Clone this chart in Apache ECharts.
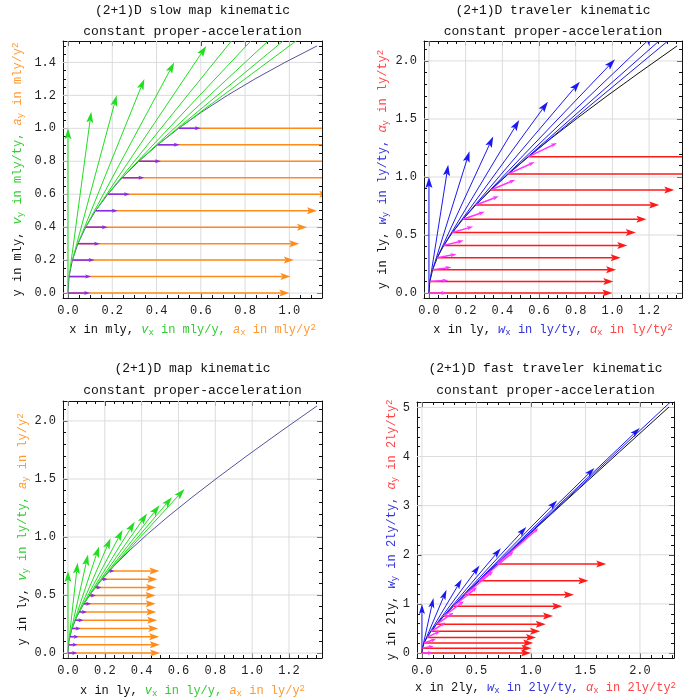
<!DOCTYPE html>
<html><head><meta charset="utf-8">
<script src="https://cdn.jsdelivr.net/npm/echarts@6/dist/echarts.min.js"></script>
<style>html,body{margin:0;padding:0;background:#fff}#c{width:700px;height:700px}</style>
</head><body><div id="c"></div>
<script>
// ---------- Panel 1: (2+1)D slow map kinematic ----------
const p1X   = [0, 0.005, 0.02, 0.045, 0.08, 0.125, 0.18, 0.245, 0.32, 0.405, 0.5];
const p1Y   = [0, 0.1, 0.2, 0.3, 0.4, 0.5, 0.6, 0.7, 0.8, 0.9, 1.0];
const p1Vx  = [0, 0.1, 0.2, 0.3, 0.4, 0.5, 0.6, 0.7, 0.8, 0.9, 1.0];
const p1Vy  = [1, 1, 1, 1, 1, 1, 1, 1, 1, 1, 1];
const p1Ax  = [1, 1, 1, 1, 1, 1, 1, 1, 1, 1, 1];
const p1Ay  = [0, 0, 0, 0, 0, 0, 0, 0, 0, 0, 0];
const p1Dx  = [0.1, 0.1, 0.1, 0.1, 0.1, 0.1, 0.1, 0.1, 0.1, 0.1, 0.1];
const p1Dy  = [0, 0, 0, 0, 0, 0, 0, 0, 0, 0, 0];
const p1CurveX = [0, 0.005, 0.02, 0.045, 0.08, 0.125, 0.18, 0.245, 0.32, 0.405, 0.5, 0.605, 0.72, 0.845, 0.98, 1.125];
const p1CurveY = [0, 0.1, 0.2, 0.3, 0.4, 0.5, 0.6, 0.7, 0.8, 0.9, 1.0, 1.1, 1.2, 1.3, 1.4, 1.5];
const p1XTicks = [0, 0.2, 0.4, 0.6, 0.8, 1.0];
const p1YTicks = [0, 0.2, 0.4, 0.6, 0.8, 1.0, 1.2, 1.4];

// ---------- Panel 2: (2+1)D traveler kinematic ----------
const p2X   = [0, 0.005, 0.0201, 0.0453, 0.0811, 0.1276, 0.1855, 0.2552, 0.3374, 0.4331, 0.5431];
const p2Y   = [0, 0.1002, 0.2013, 0.3045, 0.4108, 0.5211, 0.6367, 0.7586, 0.8881, 1.0265, 1.1752];
const p2Wx  = [0, 0.100, 0.201, 0.305, 0.411, 0.521, 0.637, 0.759, 0.888, 1.027, 1.175];
const p2Wy  = [1, 1.005, 1.020, 1.045, 1.081, 1.128, 1.185, 1.255, 1.337, 1.433, 1.543];
const p2Alx = [1, 1, 1, 1, 1, 1, 1, 1, 1, 1, 1];
const p2Aly = [0, 0, 0, 0, 0, 0, 0, 0, 0, 0, 0];
const p2Dx  = [0.1, 0.1005, 0.102, 0.1045, 0.1081, 0.1128, 0.1185, 0.1255, 0.1337, 0.1433, 0.1543];
const p2Dy  = [0, 0.010, 0.0201, 0.0305, 0.0411, 0.0521, 0.0637, 0.0759, 0.0888, 0.1027, 0.1175];
const p2CurveX = [0, 0.005, 0.0201, 0.0453, 0.0811, 0.1276, 0.1855, 0.2552, 0.3374, 0.4331, 0.5431, 0.6685, 0.8107, 0.9709, 1.1509, 1.3524];
const p2CurveY = [0, 0.1002, 0.2013, 0.3045, 0.4108, 0.5211, 0.6367, 0.7586, 0.8881, 1.0265, 1.1752, 1.3356, 1.5095, 1.6984, 1.9043, 2.1293];
const p2XTicks = [0, 0.2, 0.4, 0.6, 0.8, 1.0, 1.2];
const p2YTicks = [0, 0.5, 1.0, 1.5, 2.0];

// ---------- Panel 3: (2+1)D map kinematic ----------
const p3X   = [0, 0.0025, 0.0100, 0.0223, 0.0392, 0.0607, 0.0863, 0.1158, 0.1489, 0.1853, 0.2247];
const p3Y   = [0, 0.0707, 0.1414, 0.2121, 0.2828, 0.3536, 0.4243, 0.4950, 0.5657, 0.6364, 0.7071];
const p3Vx  = [0, 0.0499, 0.0990, 0.1467, 0.1924, 0.2357, 0.2762, 0.3137, 0.3482, 0.3796, 0.4082];
const p3Vy  = [0.7071, 0.7071, 0.7071, 0.7071, 0.7071, 0.7071, 0.7071, 0.7071, 0.7071, 0.7071, 0.7071];
const p3Ax  = [0.5, 0.4963, 0.4854, 0.4680, 0.4455, 0.4190, 0.3901, 0.3599, 0.3297, 0.3002, 0.2722];
const p3Ay  = [0, 0, 0, 0, 0, 0, 0, 0, 0, 0, 0];
const p3Dx  = [0.05, 0.0496, 0.0485, 0.0468, 0.0446, 0.0419, 0.0390, 0.0360, 0.0330, 0.0300, 0.0272];
const p3Dy  = [0, 0, 0, 0, 0, 0, 0, 0, 0, 0, 0];
const p3CurveX = p2CurveX;
const p3CurveY = p2CurveY;
const p3XTicks = [0, 0.2, 0.4, 0.6, 0.8, 1.0, 1.2];
const p3YTicks = [0, 0.5, 1.0, 1.5, 2.0];

// ---------- Panel 4: (2+1)D fast traveler kinematic ----------
const p4X   = [0, 0.0050, 0.0203, 0.0464, 0.0844, 0.1358, 0.2027, 0.2877, 0.3944, 0.5269, 0.6906];
const p4Y   = [0, 0.1007, 0.2054, 0.3184, 0.4441, 0.5876, 0.7548, 0.9522, 1.1878, 1.4711, 1.8135];
const p4Wx  = [0, 0.1007, 0.2054, 0.3184, 0.4441, 0.5876, 0.7548, 0.9522, 1.1878, 1.4711, 1.8135];
const p4Wy  = [1, 1.0201, 1.0811, 1.1855, 1.3374, 1.5431, 1.8107, 2.1509, 2.5775, 3.1075, 3.7622];
const p4Alx = [1, 1, 1, 1, 1, 1, 1, 1, 1, 1, 1];
const p4Aly = [0, 0, 0, 0, 0, 0, 0, 0, 0, 0, 0];
const p4Dx  = [0.1, 0.102, 0.1081, 0.1186, 0.1337, 0.1543, 0.1811, 0.2151, 0.2578, 0.3108, 0.3762];
const p4Dy  = [0, 0.0403, 0.0822, 0.1273, 0.1776, 0.2350, 0.3019, 0.3809, 0.4751, 0.5884, 0.7254];
const p4CurveX = [0, 0.0050, 0.0203, 0.0464, 0.0844, 0.1358, 0.2027, 0.2877, 0.3944, 0.5269, 0.6906, 0.8920, 1.1392, 1.4423, 1.8132, 2.2669];
const p4CurveY = [0, 0.1007, 0.2054, 0.3184, 0.4441, 0.5876, 0.7548, 0.9522, 1.1878, 1.4711, 1.8135, 2.2286, 2.7331, 3.3474, 4.0960, 5.0090];
const p4XTicks = [0, 0.5, 1.0, 1.5, 2.0];
const p4YTicks = [0, 1, 2, 3, 4, 5];

// ---------- styling / layout ----------
const FONT = '"Liberation Mono", "DejaVu Sans Mono", monospace';
const GREEN = '#22dd22', ORANGE = '#ff8c1a', PURPLE = '#8a2be2', CURVE = '#55559a';
const BLUE = '#1a1af0', RED = '#ff1a1a', MAGENTA = '#ff33ff', BLACK = '#111111';
const TXT_G = '#33cc33', TXT_O = '#ff9933', TXT_B = '#3333dd', TXT_R = '#ff4444';

function minorTicks(lo, hi, step, majors) {
  const out = [];
  const n0 = Math.ceil(lo / step - 1e-9), n1 = Math.floor(hi / step + 1e-9);
  for (let n = n0; n <= n1; n++) {
    const v = +(n * step).toFixed(6);
    if (!majors.some(m => Math.abs(m - v) < 1e-9)) out.push(v);
  }
  return out;
}
const f1 = v => (+v).toFixed(1);
const f0 = v => String(Math.round(v));

function richStyles(c1, c2) {
  const base = { fontFamily: FONT, fontSize: 12, lineHeight: 14 };
  const sub = { fontFamily: FONT, fontSize: 9, lineHeight: 8, verticalAlign: 'bottom' };
  const sup = { fontFamily: FONT, fontSize: 9, lineHeight: 8, verticalAlign: 'top' };
  return {
    k: Object.assign({}, base, { color: '#111' }),
    c: Object.assign({}, base, { color: c1 }),
    ci: Object.assign({}, base, { color: c1, fontStyle: 'italic' }),
    cs: Object.assign({}, sub, { color: c1 }),
    d: Object.assign({}, base, { color: c2 }),
    di: Object.assign({}, base, { color: c2, fontStyle: 'italic' }),
    ds: Object.assign({}, sub, { color: c2 }),
    dp: Object.assign({}, sup, { color: c2 })
  };
}

const xAxes = [], yAxes = [];
function addAxes(g, xr, yr, xMaj, xMinStep, yMaj, yMinStep, xFmt, yFmt, xName, yName, xGap, yGap, rich) {
  const xMin = minorTicks(xr[0], xr[1], xMinStep, xMaj);
  const yMin = minorTicks(yr[0], yr[1], yMinStep, yMaj);
  const line = { show: true, onZero: false, lineStyle: { color: BLACK, width: 1 } };
  const noLine = { show: false, onZero: false };
  function set(arr, dim, r, maj, min, fmt, name, gap) {
    const pos = dim === 'x' ? ['bottom', 'top'] : ['left', 'right'];
    const base = { type: 'value', gridIndex: g, min: r[0], max: r[1], splitLine: { show: false }, silent: true };
    arr.push(Object.assign({}, base, {
      position: pos[0], axisLine: line,
      axisTick: { show: true, inside: true, length: 5, customValues: maj, lineStyle: { color: BLACK } },
      axisLabel: { show: true, customValues: maj, formatter: fmt, margin: 7, fontFamily: FONT, fontSize: 12, color: '#222' },
      name: name, nameLocation: 'middle', nameGap: gap, nameRotate: dim === 'y' ? 90 : 0,
      nameTextStyle: { fontFamily: FONT, fontSize: 12, rich: rich }
    }));
    arr.push(Object.assign({}, base, {
      position: pos[1], axisLine: line,
      axisTick: { show: true, inside: true, length: 5, customValues: maj, lineStyle: { color: BLACK } },
      axisLabel: { show: false }
    }));
    arr.push(Object.assign({}, base, {
      position: pos[0], axisLine: noLine,
      axisTick: { show: true, inside: true, length: 3, customValues: min, lineStyle: { color: BLACK } },
      axisLabel: { show: false }
    }));
    arr.push(Object.assign({}, base, {
      position: pos[1], axisLine: noLine,
      axisTick: { show: true, inside: true, length: 3, customValues: min, lineStyle: { color: BLACK } },
      axisLabel: { show: false }
    }));
  }
  set(xAxes, 'x', xr, xMaj, xMin, xFmt, xName, xGap);
  set(yAxes, 'y', yr, yMaj, yMin, yFmt, yName, yGap);
}

const series = [];
function gridLines(g, xr, yr, xMaj, yMaj) {
  const d = xMaj.map(v => [v, yr[0], 0]).concat(yMaj.map(v => [xr[0], v, 1]));
  series.push({
    type: 'custom', xAxisIndex: g * 4, yAxisIndex: g * 4, silent: true, z: 1, animation: false,
    data: d, encode: { x: 0, y: 1 },
    renderItem: function (params, api) {
      const cs = params.coordSys;
      const p = api.coord([api.value(0), api.value(1)]);
      if (api.value(2) === 0) {
        return { type: 'line', shape: { x1: p[0], y1: cs.y, x2: p[0], y2: cs.y + cs.height }, style: { stroke: '#dcdcdc', lineWidth: 1 } };
      }
      return { type: 'line', shape: { x1: cs.x, y1: p[1], x2: cs.x + cs.width, y2: p[1] }, style: { stroke: '#dcdcdc', lineWidth: 1 } };
    }
  });
}
function curve(g, xs, ys, color) {
  series.push({
    type: 'line', xAxisIndex: g * 4, yAxisIndex: g * 4, data: xs.map((x, i) => [x, ys[i]]),
    showSymbol: false, symbol: 'none', lineStyle: { color: color, width: 1 }, clip: true, silent: true, z: 2, animation: false
  });
}
function arrows(g, xs, ys, dxs, dys, color, lw, hl, hw, z) {
  series.push({
    type: 'custom', xAxisIndex: g * 4, yAxisIndex: g * 4, clip: true, silent: true, z: z, animation: false,
    data: xs.map((x, i) => [x, ys[i], dxs[i], dys[i]]), encode: { x: 0, y: 1 },
    renderItem: function (params, api) {
      const x0 = api.value(0), y0 = api.value(1);
      const p0 = api.coord([x0, y0]);
      const p1 = api.coord([x0 + api.value(2), y0 + api.value(3)]);
      const dx = p1[0] - p0[0], dy = p1[1] - p0[1];
      const L = Math.sqrt(dx * dx + dy * dy);
      if (L < 0.5) return null;
      const ux = dx / L, uy = dy / L, nx = -uy, ny = ux;
      const h = Math.min(hl, L);
      const bx = p1[0] - ux * h, by = p1[1] - uy * h;
      const mx = p1[0] - ux * h * 0.8, my = p1[1] - uy * h * 0.8;
      return { type: 'group', children: [
        { type: 'line', shape: { x1: p0[0], y1: p0[1], x2: mx, y2: my }, style: { stroke: color, lineWidth: lw } },
        { type: 'polygon', shape: { points: [[p1[0], p1[1]], [bx + nx * hw / 2, by + ny * hw / 2], [mx, my], [bx - nx * hw / 2, by - ny * hw / 2]] }, style: { fill: color } }
      ]};
    }
  });
}

// ranges (2% padding of the curve extent)
const r1x = [-0.0225, 1.1475], r1y = [-0.03, 1.53];
const r2x = [-0.027, 1.3794], r2y = [-0.0426, 2.1719];
const r4x = [-0.0453, 2.3122], r4y = [-0.1002, 5.1092];

const richGO = richStyles(TXT_G, TXT_O);
const richBR = richStyles(TXT_B, TXT_R);

addAxes(0, r1x, r1y, p1XTicks, 0.05, p1YTicks, 0.05, f1, f1,
  '{k|x in mly, }{ci|v}{cs|x}{c| in mly/y, }{di|a}{ds|x}{d| in mly/y}{dp|2}',
  '{k|y in mly, }{ci|v}{cs|y}{c| in mly/ty, }{di|a}{ds|y}{d| in mly/y}{dp|2}', 25, 38, richGO);
addAxes(1, r2x, r2y, p2XTicks, 0.05, p2YTicks, 0.1, f1, f1,
  '{k|x in ly, }{ci|w}{cs|x}{c| in ly/ty, }{di|α}{ds|x}{d| in ly/ty}{dp|2}',
  '{k|y in ly, }{ci|w}{cs|y}{c| in ly/ty, }{di|α}{ds|y}{d| in ly/ty}{dp|2}', 25, 34, richBR);
addAxes(2, r2x, r2y, p3XTicks, 0.05, p3YTicks, 0.1, f1, f1,
  '{k|x in ly, }{ci|v}{cs|x}{c| in ly/y, }{di|a}{ds|x}{d| in ly/y}{dp|2}',
  '{k|y in ly, }{ci|v}{cs|y}{c| in ly/ty, }{di|a}{ds|y}{d| in ly/y}{dp|2}', 26, 33, richGO);
addAxes(3, r4x, r4y, p4XTicks, 0.1, p4YTicks, 0.2, f1, f0,
  '{k|x in 2ly, }{ci|w}{cs|x}{c| in 2ly/ty, }{di|α}{ds|x}{d| in 2ly/ty}{dp|2}',
  '{k|y in 2ly, }{ci|w}{cs|y}{c| in 2ly/ty, }{di|α}{ds|y}{d| in 2ly/ty}{dp|2}', 23, 17, richBR);

gridLines(0, r1x, r1y, p1XTicks, p1YTicks);
gridLines(1, r2x, r2y, p2XTicks, p2YTicks);
gridLines(2, r2x, r2y, p3XTicks, p3YTicks);
gridLines(3, r4x, r4y, p4XTicks, p4YTicks);

curve(0, p1CurveX, p1CurveY, CURVE);
arrows(0, p1X, p1Y, p1Vx, p1Vy, GREEN, 1, 11, 7, 3);
arrows(0, p1X, p1Y, p1Ax, p1Ay, ORANGE, 1.5, 10, 7, 4);
arrows(0, p1X, p1Y, p1Dx, p1Dy, PURPLE, 1.5, 6, 4, 5);

curve(1, p2CurveX, p2CurveY, BLACK);
arrows(1, p2X, p2Y, p2Wx, p2Wy, BLUE, 1, 11, 7, 3);
arrows(1, p2X, p2Y, p2Alx, p2Aly, RED, 1.5, 10, 7, 4);
arrows(1, p2X, p2Y, p2Dx, p2Dy, MAGENTA, 1.5, 6, 4, 5);

curve(2, p3CurveX, p3CurveY, CURVE);
arrows(2, p3X, p3Y, p3Vx, p3Vy, GREEN, 1, 11, 7, 3);
arrows(2, p3X, p3Y, p3Ax, p3Ay, ORANGE, 1.5, 10, 7, 4);
arrows(2, p3X, p3Y, p3Dx, p3Dy, PURPLE, 1.5, 5, 4, 5);

curve(3, p4CurveX, p4CurveY, BLACK);
arrows(3, p4X, p4Y, p4Wx, p4Wy, BLUE, 1, 10, 6, 3);
arrows(3, p4X, p4Y, p4Alx, p4Aly, RED, 1.5, 10, 7, 4);
arrows(3, p4X, p4Y, p4Dx, p4Dy, MAGENTA, 1.5, 5, 4, 5);

function title(cx, top, lh, line1) {
  return { text: line1 + '\nconstant proper-acceleration', left: cx, top: top, textAlign: 'center', padding: 0,
    textStyle: { fontFamily: FONT, fontSize: 13, fontWeight: 'normal', color: '#111', lineHeight: lh } };
}

const chart = echarts.init(document.getElementById('c'), null, { renderer: 'canvas' });
chart.setOption({
  backgroundColor: '#ffffff',
  animation: false,
  title: [
    title(192.5, 0, 21, '(2+1)D slow map kinematic'),
    title(553, 0, 21, '(2+1)D traveler kinematic'),
    title(192.5, 358, 22, '(2+1)D map kinematic'),
    title(545.5, 358, 22, '(2+1)D fast traveler kinematic')
  ],
  grid: [
    { left: 63, top: 41, width: 259, height: 257 },
    { left: 424, top: 41, width: 258, height: 257 },
    { left: 63, top: 401, width: 259, height: 257 },
    { left: 417, top: 402, width: 257, height: 256 }
  ],
  xAxis: xAxes,
  yAxis: yAxes,
  series: series
});
</script></body></html>
